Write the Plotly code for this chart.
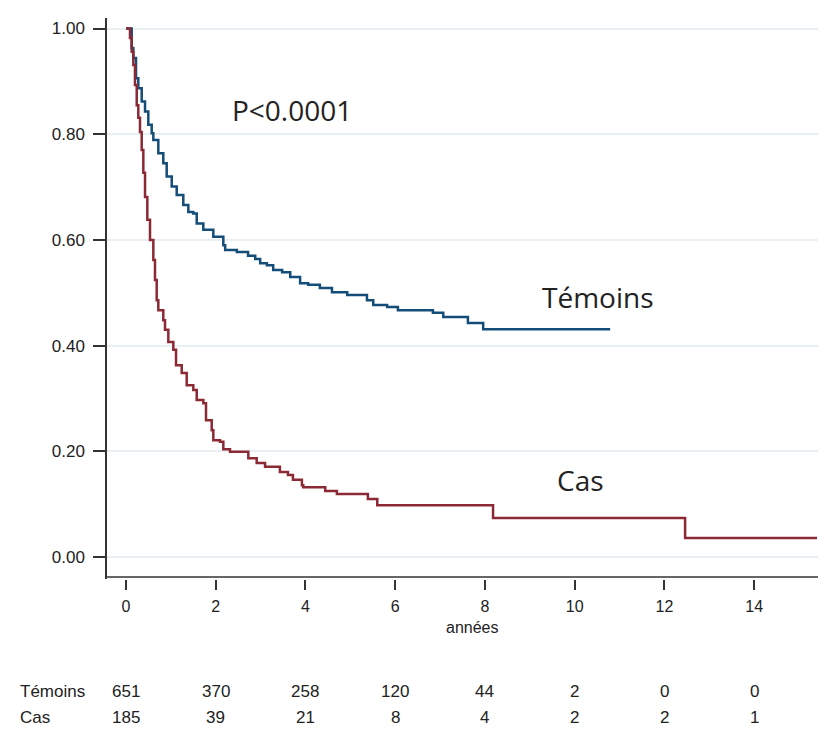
import plotly.graph_objects as go

# Kaplan-Meier estimates (years, survival)
temoins_t = [0, 0.127, 0.163, 0.223, 0.274, 0.350, 0.424, 0.497, 0.573, 0.609, 0.720, 0.831,
             0.907, 1.019, 1.130, 1.277, 1.389, 1.500, 1.576, 1.723, 1.946, 2.169, 2.21, 2.47,
             2.72, 2.88, 2.99, 3.14, 3.28, 3.48, 3.66, 3.88, 4.06, 4.32, 4.59, 4.93, 5.37,
             5.51, 5.82, 6.06, 6.84, 7.07, 7.62, 7.96, 10.79]
temoins_s = [1.0, 0.963, 0.944, 0.906, 0.887, 0.862, 0.843, 0.818, 0.802, 0.789, 0.764, 0.745,
             0.720, 0.701, 0.685, 0.666, 0.653, 0.650, 0.631, 0.619, 0.606, 0.590, 0.581, 0.577,
             0.570, 0.564, 0.556, 0.552, 0.543, 0.539, 0.530, 0.518, 0.515, 0.509, 0.501, 0.496, 0.486,
             0.477, 0.473, 0.467, 0.462, 0.454, 0.443, 0.431, 0.431]

cas_t = [0, 0.089, 0.127, 0.163, 0.20, 0.239, 0.274, 0.312, 0.350, 0.386, 0.424, 0.475, 0.535,
         0.609, 0.646, 0.684, 0.720, 0.831, 0.869, 0.943, 1.054, 1.115, 1.242, 1.353, 1.500,
         1.576, 1.723, 1.783, 1.910, 1.946, 2.095, 2.169, 2.318, 2.726, 2.913, 3.099, 3.43,
         3.61, 3.72, 3.92, 3.95, 4.44, 4.70, 5.39, 5.60, 8.18, 12.46, 15.40]
cas_s = [1.0, 0.982, 0.956, 0.931, 0.893, 0.855, 0.831, 0.804, 0.770, 0.727, 0.681, 0.638, 0.600,
         0.562, 0.524, 0.486, 0.467, 0.448, 0.430, 0.407, 0.392, 0.363, 0.348, 0.325, 0.316,
         0.297, 0.291, 0.259, 0.240, 0.221, 0.218, 0.204, 0.199, 0.187, 0.178, 0.171, 0.161,
         0.155, 0.146, 0.136, 0.132, 0.125, 0.119, 0.110, 0.098, 0.074, 0.036, 0.036]

# number at risk table
risk_times = [0, 2, 4, 6, 8, 10, 12, 14]
risk_temoins = [651, 370, 258, 120, 44, 2, 0, 0]
risk_cas = [185, 39, 21, 8, 4, 2, 2, 1]

y_ticks = [0, 0.2, 0.4, 0.6, 0.8, 1.0]
y_ticklabels = ["0.00", "0.20", "0.40", "0.60", "0.80", "1.00"]

BLUE = "#154d79"
RED = "#8b2a34"
TXT = "#222222"
FONT = "Arial, Liberation Sans, sans-serif"

fig = go.Figure()
fig.add_trace(go.Scatter(x=temoins_t, y=temoins_s, mode="lines", line_shape="hv",
                         line=dict(color=BLUE, width=2.5), name="Témoins"))
fig.add_trace(go.Scatter(x=cas_t, y=cas_s, mode="lines", line_shape="hv",
                         line=dict(color=RED, width=2.5), name="Cas"))

# page has an 8px body margin, so the figure is 8px smaller each way
fig.update_layout(
    width=818, height=727,
    margin=dict(l=99, r=0, t=10, b=156),
    paper_bgcolor="white", plot_bgcolor="white",
    showlegend=False,
    font=dict(family=FONT, size=16, color=TXT),
)
fig.update_xaxes(range=[-0.4235, 15.6], tickvals=risk_times, ticks="outside", ticklen=10,
                 tickwidth=1.5, tickcolor="#333", showgrid=False, zeroline=False,
                 showline=False, ticklabelstandoff=3, tickfont=dict(size=16), automargin=False)
fig.update_yaxes(range=[-0.0416, 1.0199], tickvals=y_ticks, ticktext=y_ticklabels,
                 ticks="outside", ticklen=12, tickwidth=1.5, tickcolor="#333",
                 showline=True, linecolor="#333", linewidth=1.5,
                 showgrid=True, gridcolor="#e8f0f3", gridwidth=2, zeroline=False,
                 ticklabelstandoff=5, tickfont=dict(size=17), automargin=False)

# x axis line sits a little above the ticks
fig.add_shape(type="line", xref="paper", yref="y", x0=0, x1=1, y0=-0.0378, y1=-0.0378,
              line=dict(color="#333", width=1.5))

fig.add_annotation(x=7.73, y=-0.0873, xref="x", yref="paper", yanchor="middle",
                   text="années", showarrow=False, font=dict(size=16))

txt_font = dict(family="Open Sans, sans-serif", size=28, color=TXT)
fig.add_annotation(x=2.32, y=0.846, text="P<0.0001", showarrow=False, xanchor="left", font=txt_font)
fig.add_annotation(x=9.23, y=0.492, text="Témoins", showarrow=False, xanchor="left", font=txt_font)
fig.add_annotation(x=9.56, y=0.146, text="Cas", showarrow=False, xanchor="left", font=txt_font)

# number at risk rows
for label, counts, yp in [("Témoins", risk_temoins, -0.2014), ("Cas", risk_cas, -0.246)]:
    fig.add_annotation(x=-0.1238, y=yp, xref="paper", yref="paper", text=label,
                       showarrow=False, xanchor="left", yanchor="middle", font=dict(size=17))
    for t, n in zip(risk_times, counts):
        fig.add_annotation(x=t, y=yp, xref="x", yref="paper", text=str(n),
                           showarrow=False, yanchor="middle", font=dict(size=17))

fig.write_html("out.html")
